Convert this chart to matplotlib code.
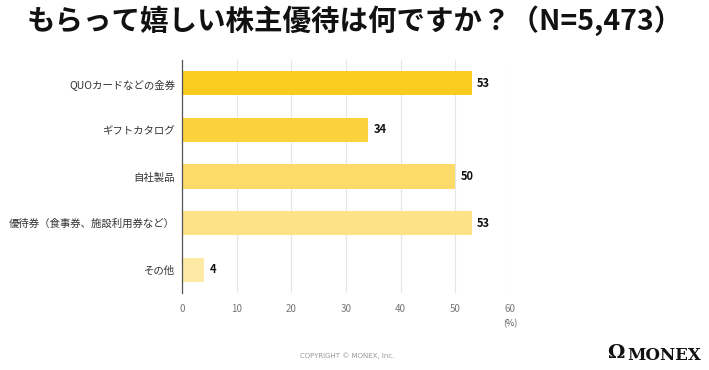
import matplotlib.pyplot as plt
import numpy as np

plt.rcParams['font.family'] = ['Noto Sans CJK JP', 'DejaVu Sans']

# -----------------------
# DATA
# -----------------------
categories = ["QUOカードなどの金券", "ギフトカタログ", "自社製品",
              "優待券（食事券、施設利用券など）", "その他"]
values = [53, 34, 50, 53, 4]
bar_colors = ["#fbcb1e", "#fcd23c", "#fddb68", "#fde287", "#feeaa5"]
xticks = [0, 10, 20, 30, 40, 50, 60]

# -----------------------
# FIGURE
# -----------------------
fig = plt.figure(figsize=(7.09, 3.70), dpi=100)
ax = fig.add_axes([0.2567, 0.208, 0.4626, 0.630])

y = np.arange(len(categories))
ax.barh(y, values, height=0.52, color=bar_colors, zorder=3)
ax.set_ylim(len(categories) - 0.5, -0.5)
ax.set_xlim(0, 60)

for i, v in enumerate(values):
    ax.text(v + 1, i, str(v), va="center", ha="left", fontsize=8,
            fontweight="bold", color="#111111")

ax.set_yticks(y)
ax.set_yticklabels(categories, fontsize=7.5, color="#333333")
ax.set_xticks(xticks)
ax.set_xticklabels([str(t) for t in xticks], fontsize=7, color="#777777")
ax.tick_params(axis="y", length=0, pad=5)
ax.tick_params(axis="x", length=0, pad=8)
ax.grid(axis="x", color="#e6e6e6", linewidth=0.8, zorder=0)

for side in ["top", "right", "bottom"]:
    ax.spines[side].set_visible(False)
ax.spines["left"].set_color("#555555")
ax.spines["left"].set_linewidth(0.9)
ax.spines["left"].set_zorder(4)

ax.text(60, -0.11, "(%)", transform=ax.get_xaxis_transform(), ha="center",
        va="top", fontsize=6.5, color="#555555")

# -----------------------
# TITLE / FOOTER
# -----------------------
fig.text(0.038, 0.945, "もらって嬉しい株主優待は何ですか？（N=5,473）",
         fontsize=20.5, fontweight="bold", ha="left", va="center", color="#111111")
fig.text(0.49, 0.04, "COPYRIGHT © MONEX, Inc.", fontsize=5, ha="center",
         va="center", color="#999999", family="DejaVu Sans")
fig.text(0.884, 0.04, "MONEX", fontsize=12, ha="left", va="center",
         fontweight="bold", family="DejaVu Serif", color="#111111")
fig.text(0.868, 0.045, "Ω", fontsize=14, ha="center", va="center",
         fontweight="bold", family="DejaVu Serif", color="#111111")

fig.savefig("out.png", dpi=100)
